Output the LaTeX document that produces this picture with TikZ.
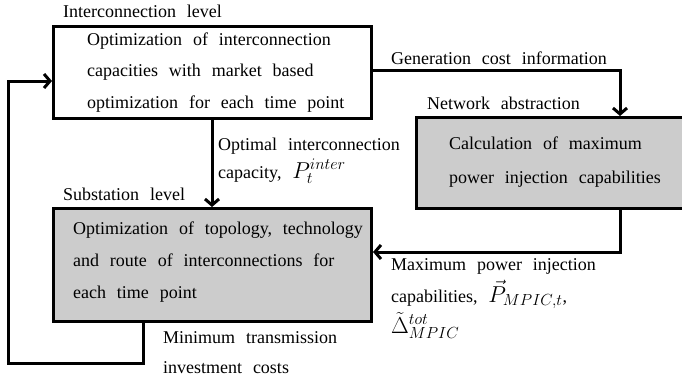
\RequirePackage{fix-cm}
\documentclass[tikz,border=0pt]{standalone}
\usepackage{fontspec}
\setmainfont{Liberation Serif}
\usetikzlibrary{arrows.meta}
\newcommand\myfs{\fontsize{18}{31.5}\selectfont\spaceskip=0.6em plus 0.1em minus 0.05em\relax}
\newcommand\mymath[1]{{\fontsize{23}{31.5}\selectfont$#1$}}
\tikzset{
  box/.style={draw, line width=3pt, inner sep=0pt, anchor=north west},
  grayfill/.style={fill=gray!40},
  lbl/.style={anchor=base west, inner sep=0pt, font=\myfs},
  arr/.style={line width=3pt, -{Straight Barb[length=6pt,width=14pt]}},
}
\begin{document}
\begin{tikzpicture}[x=1pt,y=-1pt]
\useasboundingbox (0,0) rectangle (682,383);
\clip (0,0) rectangle (682,383);
% boxes
\node[box, minimum width=318pt, minimum height=92pt] (b1) at (52,25) {};
\node[box, grayfill, minimum width=285pt, minimum height=91pt] (b2) at (415,116) {};
\node[box, grayfill, minimum width=318pt, minimum height=113pt] (b3) at (52,207) {};
% helper coordinates
\coordinate (xA) at (212,0);
\coordinate (xG) at (620,0);
\coordinate (yG) at (0,70);
\coordinate (yM) at (0,252);
\coordinate (xF) at (143,0);
\coordinate (yL) at (0,81);
\coordinate (cGR) at (620,70);
\coordinate (cMR) at (620,252);
\coordinate (cF1) at (143,363);
\coordinate (cF2) at (8,363);
\coordinate (cF3) at (8,81);
% connectors
\draw[arr] (b1.south -| xA) -- (b3.north -| xA);
\draw[arr] (b1.east |- yG) -- (cGR) -- (b2.north -| xG);
\draw[arr] (b2.south -| xG) -- (cMR) -- (b3.east |- yM);
\draw[arr] (b3.south -| xF) -- (cF1) -- (cF2) -- (cF3) -- (b1.west |- yL);
% labels
\node[lbl] (t1) at (63,17) {Interconnection level};
\node[lbl] (t2) at (87,45) {Optimization of interconnection};
\node[lbl] (t3) at (87,76.5) {capacities with market based};
\node[lbl] (t4) at (87,108) {optimization for each time point};
\node[lbl] (t5) at (391,64) {Generation cost information};
\node[lbl] (t6) at (427,109) {Network abstraction};
\node[lbl] (t7) at (449,149) {Calculation of maximum};
\node[lbl] (t8) at (449,183) {power injection capabilities};
\node[lbl] (t9) at (218,150) {Optimal interconnection};
\node[lbl] (t10) at (218,178) {capacity, \mymath{P_t^{inter}}};
\node[lbl] (t11) at (63,200) {Substation level};
\node[lbl] (t12) at (73,234) {Optimization of topology, technology};
\node[lbl] (t13) at (73,266) {and route of interconnections for};
\node[lbl] (t14) at (73,298) {each time point};
\node[lbl] (t15) at (163,343) {Minimum transmission};
\node[lbl] (t16) at (163,373) {investment costs};
\node[lbl] (t17) at (391,270) {Maximum power injection};
\node[lbl] (t18) at (391,302) {capabilities, \mymath{\vec{P}_{MPIC,t}},};
\node[lbl] (t19) at (391,333) {\mymath{\tilde{\Delta}^{tot}_{MPIC}}};
\end{tikzpicture}
\end{document}
